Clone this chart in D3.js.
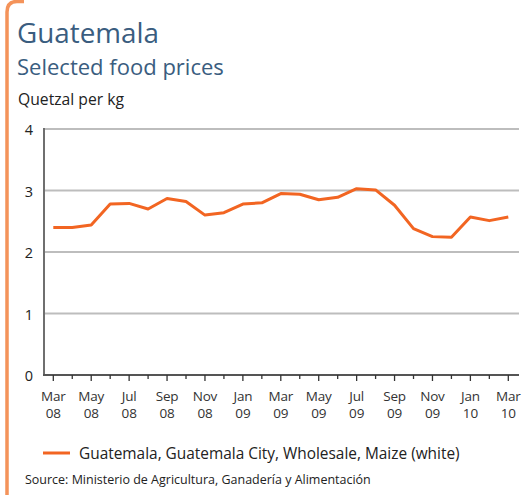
<!DOCTYPE html>
<html><head><meta charset="utf-8">
<script src="https://cdn.jsdelivr.net/npm/d3@7"></script>
<style>
html,body{margin:0;padding:0;background:#fff;}
svg{display:block;font-family:"Open Sans","Lato",sans-serif;}
</style></head>
<body><svg id="c" width="525" height="495"></svg>
<script>
const months = ["Mar 08","Apr 08","May 08","Jun 08","Jul 08","Aug 08","Sep 08","Oct 08","Nov 08","Dec 08",
  "Jan 09","Feb 09","Mar 09","Apr 09","May 09","Jun 09","Jul 09","Aug 09","Sep 09","Oct 09","Nov 09","Dec 09",
  "Jan 10","Feb 10","Mar 10"];
const maizePrices = [2.40,2.40,2.44,2.78,2.79,2.70,2.87,2.82,2.60,2.64,2.78,2.80,2.95,2.94,2.85,2.89,3.03,3.01,2.76,2.38,2.25,2.24,2.57,2.51,2.57];
const yTicks = [0,1,2,3,4];
const seriesName = "Guatemala, Guatemala City, Wholesale, Maize (white)";

const svg = d3.select("#c");
const plot = {left:44, right:519, top:129, bottom:375};

// fit text to a target width by adjusting font size
function fit(sel, w){
  const fs = +sel.attr("font-size");
  const len = sel.node().getComputedTextLength();
  if (len > 0) sel.attr("font-size", (fs * w / len).toFixed(2));
  return sel;
}

// frame with orange left border and rounded top-left corner
svg.append("path")
  .attr("d","M7,495 L7,12 Q7,1.5 17,1.5 L24,1.5")
  .attr("fill","none").attr("stroke","#f4935a").attr("stroke-width",3.5);

fit(svg.append("text").attr("x",17).attr("y",43).attr("fill","#3a5d7f")
  .attr("font-size",28).text("Guatemala"), 142);
fit(svg.append("text").attr("x",17).attr("y",75).attr("fill","#3a5d7f")
  .attr("font-size",22).text("Selected food prices"), 207);
fit(svg.append("text").attr("x",18).attr("y",105).attr("fill","#222")
  .attr("font-size",15).text("Quetzal per kg"), 106);

const x = d3.scalePoint().domain(months).range([53.3,508.3]);
const y = d3.scaleLinear().domain([0,4]).range([plot.bottom,plot.top]);

// gridlines
svg.append("g").selectAll("line").data(yTicks.filter(d=>d>0)).join("line")
  .attr("x1",plot.left).attr("x2",plot.right)
  .attr("y1",d=>y(d)).attr("y2",d=>y(d))
  .attr("stroke","#bdbdbd").attr("stroke-width",2);

// y labels
svg.append("g").selectAll("text").data(yTicks).join("text")
  .attr("x",29).attr("y",d=>y(d)+6).attr("text-anchor","middle")
  .attr("font-size",14.5).attr("fill","#222").text(d=>d);

// axes lines
svg.append("line").attr("x1",plot.left).attr("x2",plot.left)
  .attr("y1",plot.top-1).attr("y2",plot.bottom+1)
  .attr("stroke","#6f6f6f").attr("stroke-width",2);
svg.append("line").attr("x1",plot.left-1).attr("x2",plot.right)
  .attr("y1",plot.bottom).attr("y2",plot.bottom)
  .attr("stroke","#555").attr("stroke-width",2);

// x ticks
svg.append("g").selectAll("line").data(months).join("line")
  .attr("x1",d=>x(d)).attr("x2",d=>x(d))
  .attr("y1",plot.bottom).attr("y2",(d,i)=>plot.bottom+(i%2===0?6:4))
  .attr("stroke","#333").attr("stroke-width",1.3);

const lab = svg.append("g").selectAll("text").data(months.filter((d,i)=>i%2===0)).join("text")
  .attr("text-anchor","middle").attr("font-size",13.5).attr("fill","#333").attr("letter-spacing",-0.2);
lab.append("tspan").attr("x",d=>x(d)).attr("y",400.5).text(d=>d.split(" ")[0]);
lab.append("tspan").attr("x",d=>x(d)).attr("y",417.5).text(d=>d.split(" ")[1]);

// line
const line = d3.line().x((d,i)=>x(months[i])).y(d=>y(d));
svg.append("path").datum(maizePrices).attr("d",line)
  .attr("fill","none").attr("stroke","#f26522").attr("stroke-width",3)
  .attr("stroke-linejoin","round");

// legend
svg.append("line").attr("x1",43).attr("x2",70).attr("y1",453).attr("y2",453)
  .attr("stroke","#f26522").attr("stroke-width",3);
fit(svg.append("text").attr("x",79).attr("y",459).attr("font-size",16).attr("fill","#222")
  .text(seriesName), 381);
fit(svg.append("text").attr("x",25).attr("y",484).attr("font-size",12.5).attr("fill","#222")
  .text("Source: Ministerio de Agricultura, Ganadería y Alimentación"), 346);
</script></body></html>
